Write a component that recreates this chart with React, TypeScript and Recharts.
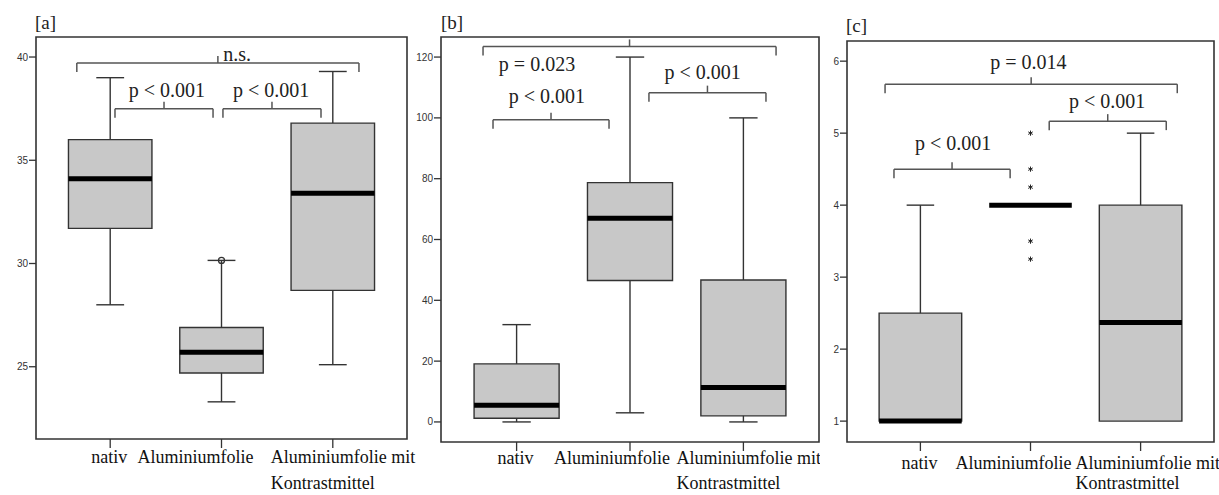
import React from 'react';
import { ComposedChart, XAxis, YAxis, ReferenceArea, ReferenceLine, Scatter } from 'recharts';

// ---------- data ----------
const CATEGORIES = ['nativ', 'Aluminiumfolie', 'Aluminiumfolie mit Kontrastmittel'];
const CATEGORY_LINES = [['nativ'], ['Aluminiumfolie'], ['Aluminiumfolie mit', 'Kontrastmittel']];
const POSITIONS = [1, 2, 3];
const PANEL_TITLES = ['[a]', '[b]', '[c]'];

// panel a
const A_MIN = [28.0, 23.3, 25.1];
const A_Q1 = [31.7, 24.7, 28.7];
const A_MED = [34.1, 25.7, 33.4];
const A_Q3 = [36.0, 26.9, 36.8];
const A_MAX = [39.0, 30.15, 39.3];
const A_TICKS = [25, 30, 35, 40];
const A_DOMAIN = [21.5, 40.97];
const A_CIRCLE_OUTLIERS = [{ x: 2, y: 30.15 }];
const A_BRACKETS = [
  { x1: 0.70, x2: 3.235, y: 39.71, label: 'n.s.', lx: 2.14, ly: 39.8 },
  { x1: 1.043, x2: 1.924, y: 37.49, label: 'p < 0.001', lx: 1.51, ly: 38.07 },
  { x1: 2.013, x2: 2.894, y: 37.49, label: 'p < 0.001', lx: 2.445, ly: 38.07 },
];

// panel b
const B_MIN = [0, 3, 0];
const B_Q1 = [1.2, 46.5, 2];
const B_MED = [5.5, 67, 11.3];
const B_Q3 = [19.1, 78.7, 46.7];
const B_MAX = [32, 120, 100];
const B_TICKS = [0, 20, 40, 60, 80, 100, 120];
const B_DOMAIN = [-6.6, 126.6];
const B_BRACKETS = [
  { x1: 0.704, x2: 3.288, y: 123.5, label: 'p = 0.023', lx: 1.18, ly: 115.3 },
  { x1: 0.792, x2: 1.815, y: 99.4, label: 'p < 0.001', lx: 1.268, ly: 104.9 },
  { x1: 2.167, x2: 3.199, y: 108.3, label: 'p < 0.001', lx: 2.64, ly: 112.8 },
];

// panel c
const C_MIN = [1, 4, 1];
const C_Q1 = [1, 4, 1];
const C_MED = [1, 4, 2.37];
const C_Q3 = [2.5, 4, 4];
const C_MAX = [4, 4, 5];
const C_TICKS = [1, 2, 3, 4, 5, 6];
const C_DOMAIN = [0.71, 6.28];
const C_STAR_OUTLIERS = [
  { x: 2, y: 5 },
  { x: 2, y: 4.5 },
  { x: 2, y: 4.25 },
  { x: 2, y: 3.5 },
  { x: 2, y: 3.25 },
];
const C_BRACKETS = [
  { x1: 0.679, x2: 3.333, y: 5.68, label: 'p = 0.014', lx: 1.98, ly: 5.89 },
  { x1: 0.76, x2: 1.815, y: 4.5, label: 'p < 0.001', lx: 1.297, ly: 4.76 },
  { x1: 2.17, x2: 3.233, y: 5.167, label: 'p < 0.001', lx: 2.697, ly: 5.35 },
];

// ---------- styling / layout ----------
const X_DOMAIN = [1 / 3, 11 / 3];
const BOX_HALF = 0.375;
const CAP_HALF = 0.125;
const SERIF = "'Liberation Serif', 'Times New Roman', serif";
const SANS = "'Liberation Sans', Arial, sans-serif";
const H = 495;
const LINE = '#333';
const BRACKET = '#555';
const FILL = '#c8c8c8';

type Stats = { min: number[]; q1: number[]; med: number[]; q3: number[]; max: number[] };
type Bracket = { x1: number; x2: number; y: number; label: string; lx: number; ly: number };
type Layout = {
  idx: number; left: number; width: number; yAxisWidth: number; marginTop: number; marginRight: number; xAxisHeight: number;
  shift2: number; start3: number; base1: number; base2: number; titleX: number; titleY: number;
};

const LAYOUT_A: Layout = { idx: 0, left: 0, width: 426, yAxisWidth: 36, marginTop: 37, marginRight: 19, xAxisHeight: 56, shift2: -26, start3: -62, base1: 463, base2: 489, titleX: 35, titleY: 30 };
const LAYOUT_B: Layout = { idx: 1, left: 410, width: 410, yAxisWidth: 31, marginTop: 37, marginRight: 1, xAxisHeight: 53, shift2: -18, start3: -67, base1: 464, base2: 489, titleX: 31, titleY: 30 };
const LAYOUT_C: Layout = { idx: 2, left: 820, width: 399, yAxisWidth: 27, marginTop: 41, marginRight: 5, xAxisHeight: 53, shift2: -17, start3: -65, base1: 469, base2: 489, titleX: 26, titleY: 33 };

const StarShape = (p: any) => {
  const { cx, cy } = p;
  if (cx == null || cy == null) return <g />;
  const r = 2.6;
  const dx = r * Math.cos(Math.PI / 6);
  const dy = r * Math.sin(Math.PI / 6);
  return (
    <g stroke="#222" strokeWidth={1}>
      <line x1={cx} y1={cy - r} x2={cx} y2={cy + r} />
      <line x1={cx - dx} y1={cy - dy} x2={cx + dx} y2={cy + dy} />
      <line x1={cx - dx} y1={cy + dy} x2={cx + dx} y2={cy - dy} />
    </g>
  );
};

const CircleShape = (p: any) => {
  const { cx, cy } = p;
  if (cx == null || cy == null) return <g />;
  return <circle cx={cx} cy={cy} r={3} fill="none" stroke={LINE} strokeWidth={1.3} />;
};

const LabelShape = (p: any) => {
  const { cx, cy, payload } = p;
  if (cx == null || cy == null) return <g />;
  return (
    <text x={cx} y={cy} textAnchor="middle" fontFamily={SERIF} fontSize={20} fill="#222">
      {payload.label}
    </text>
  );
};

function Panel({ layout, stats, domain, ticks, brackets, circles, stars }: {
  layout: Layout; stats: Stats; domain: number[]; ticks: number[]; brackets: Bracket[];
  circles: { x: number; y: number }[]; stars: { x: number; y: number }[];
}) {
  const plotH = H - layout.marginTop - layout.xAxisHeight;
  const upp = (domain[1] - domain[0]) / plotH;
  const drop = 9 * upp;
  const tip = 7 * upp;

  const renderXTick = (props: any) => {
    const { x, payload } = props;
    const idx = POSITIONS.indexOf(payload.value);
    const lines = CATEGORY_LINES[idx] || [CATEGORIES[idx]];
    const common = { fontFamily: SERIF, fontSize: 18, fill: '#111' };
    if (idx === 0) {
      return <text x={x - 1} y={layout.base1} textAnchor="middle" {...common}>{lines[0]}</text>;
    }
    if (idx === 1) {
      return <text x={x + layout.shift2} y={layout.base1} textAnchor="middle" {...common}>{lines[0]}</text>;
    }
    return (
      <g>
        <text x={x + layout.start3} y={layout.base1} textAnchor="start" {...common}>{lines[0]}</text>
        <text x={x + layout.start3} y={layout.base2} textAnchor="start" {...common}>{lines[1]}</text>
      </g>
    );
  };

  const labelData = brackets.map((b) => ({ x: b.lx, y: b.ly, label: b.label }));

  const els: React.ReactNode[] = [];
  POSITIONS.forEach((pos, i) => {
    const mn = stats.min[i], q1 = stats.q1[i], md = stats.med[i], q3 = stats.q3[i], mx = stats.max[i];
    els.push(
      <ReferenceArea key={`box${i}`} x1={pos - BOX_HALF} x2={pos + BOX_HALF} y1={q1} y2={q3}
        fill={FILL} fillOpacity={1} stroke={LINE} strokeWidth={1.4} ifOverflow="visible" />
    );
    if (mx > q3) {
      els.push(<ReferenceLine key={`uw${i}`} segment={[{ x: pos, y: q3 }, { x: pos, y: mx }]} stroke={LINE} strokeWidth={1.4} ifOverflow="visible" />);
      els.push(<ReferenceLine key={`uc${i}`} segment={[{ x: pos - CAP_HALF, y: mx }, { x: pos + CAP_HALF, y: mx }]} stroke={LINE} strokeWidth={1.4} ifOverflow="visible" />);
    }
    if (mn < q1) {
      els.push(<ReferenceLine key={`lw${i}`} segment={[{ x: pos, y: q1 }, { x: pos, y: mn }]} stroke={LINE} strokeWidth={1.4} ifOverflow="visible" />);
      els.push(<ReferenceLine key={`lc${i}`} segment={[{ x: pos - CAP_HALF, y: mn }, { x: pos + CAP_HALF, y: mn }]} stroke={LINE} strokeWidth={1.4} ifOverflow="visible" />);
    }
    els.push(
      <ReferenceLine key={`md${i}`} segment={[{ x: pos - BOX_HALF, y: md }, { x: pos + BOX_HALF, y: md }]} stroke="#000" strokeWidth={5} ifOverflow="visible" />
    );
  });

  brackets.forEach((b, j) => {
    const mid = (b.x1 + b.x2) / 2;
    els.push(<ReferenceLine key={`bl${j}`} segment={[{ x: b.x1, y: b.y - drop }, { x: b.x1, y: b.y }]} stroke={BRACKET} strokeWidth={1.5} ifOverflow="visible" />);
    els.push(<ReferenceLine key={`bh${j}`} segment={[{ x: b.x1, y: b.y }, { x: b.x2, y: b.y }]} stroke={BRACKET} strokeWidth={1.5} ifOverflow="visible" />);
    els.push(<ReferenceLine key={`br${j}`} segment={[{ x: b.x2, y: b.y }, { x: b.x2, y: b.y - drop }]} stroke={BRACKET} strokeWidth={1.5} ifOverflow="visible" />);
    els.push(<ReferenceLine key={`bt${j}`} segment={[{ x: mid, y: b.y }, { x: mid, y: b.y + tip }]} stroke={BRACKET} strokeWidth={1.5} ifOverflow="visible" />);
  });

  return (
    <div style={{ position: 'absolute', left: layout.left, top: 0, width: layout.width, height: H }}>
      <ComposedChart width={layout.width} height={H}
        margin={{ top: layout.marginTop, right: layout.marginRight, bottom: 0, left: 0 }}>
        <XAxis type="number" dataKey="x" domain={X_DOMAIN} ticks={POSITIONS} allowDataOverflow
          height={layout.xAxisHeight} axisLine={false} tickLine={{ stroke: LINE, strokeWidth: 1.3 }}
          tickSize={9} tick={renderXTick} interval={0} />
        <YAxis type="number" domain={domain} ticks={ticks} allowDataOverflow width={layout.yAxisWidth}
          axisLine={false} tickLine={{ stroke: LINE, strokeWidth: 1.3 }} tickSize={7} tickMargin={1}
          tick={{ fontSize: 10, fill: '#333', fontFamily: SANS }} interval={0} />
        <ReferenceArea x1={X_DOMAIN[0]} x2={X_DOMAIN[1]} y1={domain[0]} y2={domain[1]}
          fill="none" stroke={LINE} strokeWidth={1.6} ifOverflow="visible" />
        {els}
        <Scatter data={circles} dataKey="y" shape={CircleShape} isAnimationActive={false} legendType="none" />
        <Scatter data={stars} dataKey="y" shape={StarShape} isAnimationActive={false} legendType="none" />
        <Scatter data={labelData} dataKey="y" shape={LabelShape} isAnimationActive={false} legendType="none" />
      </ComposedChart>
      <div style={{ position: 'absolute', left: layout.titleX, top: layout.titleY - 17, fontFamily: SERIF, fontSize: 19, lineHeight: '20px', color: '#222' }}>
        {PANEL_TITLES[layout.idx]}
      </div>
    </div>
  );
}

export default function App() {
  return (
    <div style={{ position: 'absolute', left: 0, top: 0, width: 1219, height: H, background: '#fff', overflow: 'hidden' }}>
      <Panel layout={LAYOUT_A} stats={{ min: A_MIN, q1: A_Q1, med: A_MED, q3: A_Q3, max: A_MAX }}
        domain={A_DOMAIN} ticks={A_TICKS} brackets={A_BRACKETS} circles={A_CIRCLE_OUTLIERS} stars={[]} />
      <Panel layout={LAYOUT_B} stats={{ min: B_MIN, q1: B_Q1, med: B_MED, q3: B_Q3, max: B_MAX }}
        domain={B_DOMAIN} ticks={B_TICKS} brackets={B_BRACKETS} circles={[]} stars={[]} />
      <Panel layout={LAYOUT_C} stats={{ min: C_MIN, q1: C_Q1, med: C_MED, q3: C_Q3, max: C_MAX }}
        domain={C_DOMAIN} ticks={C_TICKS} brackets={C_BRACKETS} circles={[]} stars={C_STAR_OUTLIERS} />
    </div>
  );
}
